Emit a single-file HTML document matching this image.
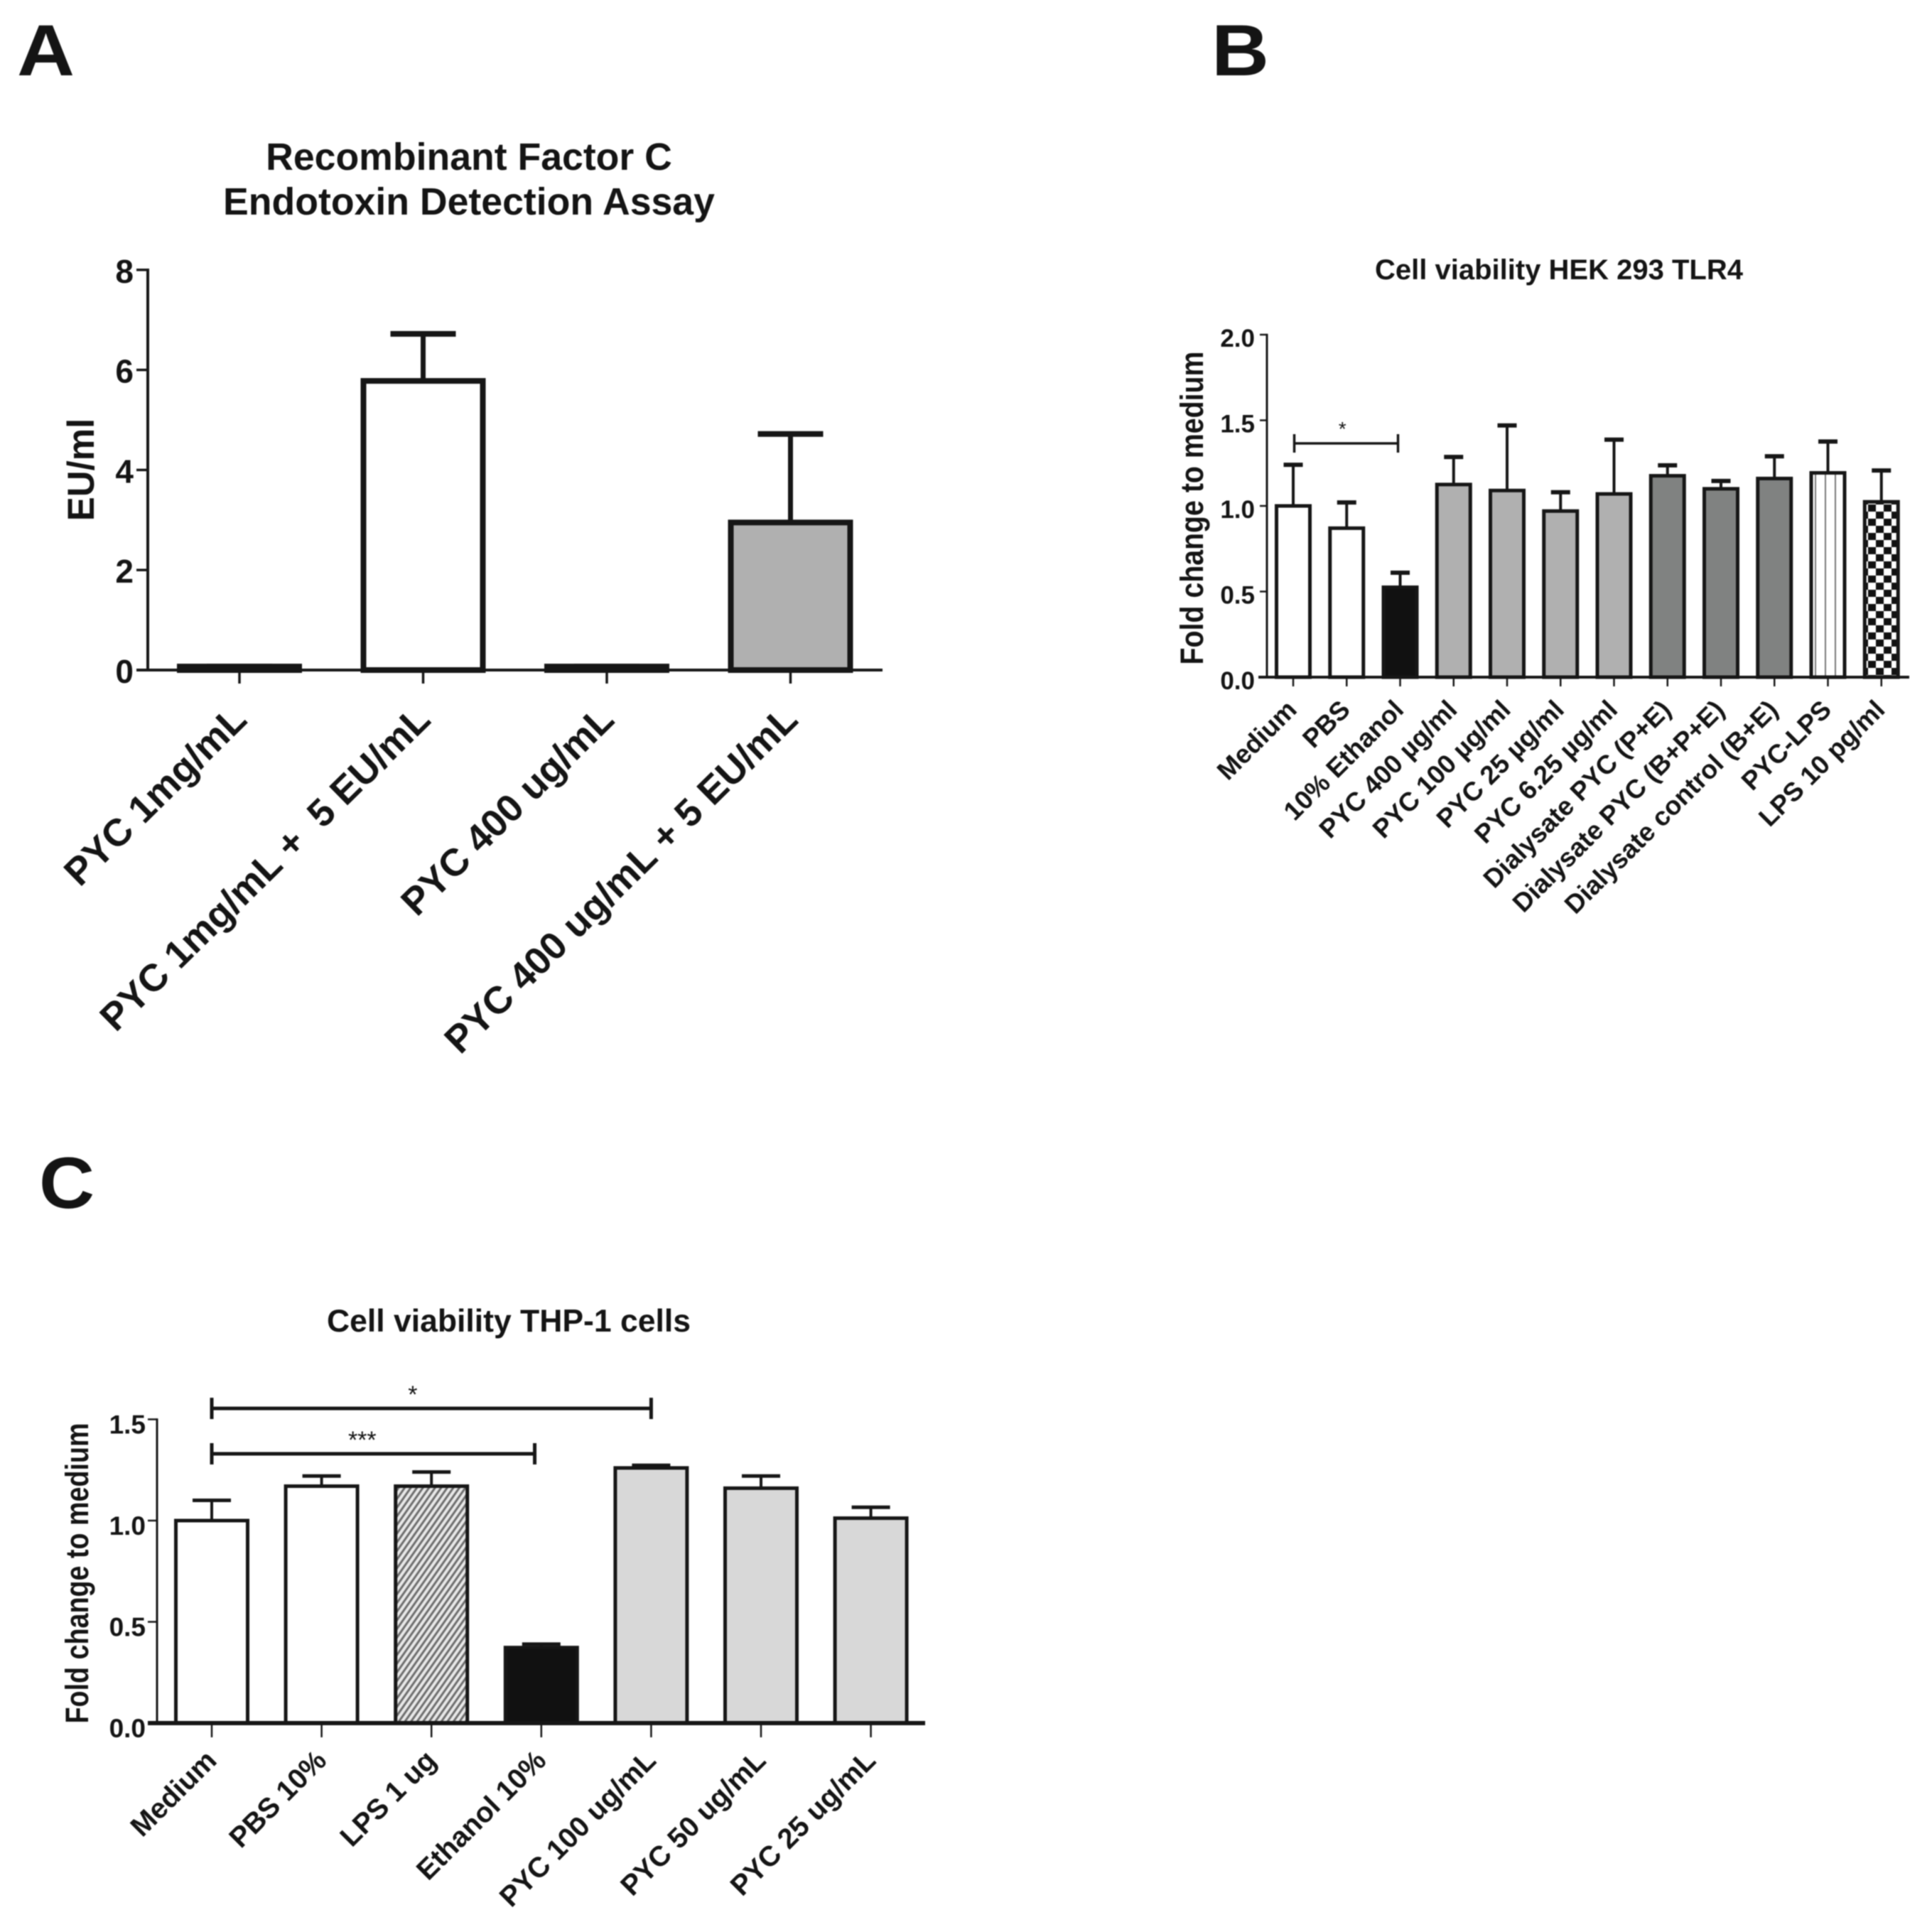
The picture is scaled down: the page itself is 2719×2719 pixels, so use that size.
<!DOCTYPE html>
<html lang="en">
<head>
<meta charset="utf-8">
<title>Endotoxin detection and cell viability panels</title>
<style>
html,body{margin:0;padding:0;background:#fff;width:2719px;height:2719px;overflow:hidden}
svg{display:block;filter:blur(0.9px)}
text{font-family:"Liberation Sans",Arial,sans-serif;fill:#141414}
.b{font-weight:bold}
</style>
</head>
<body>
<svg id="figure" xmlns="http://www.w3.org/2000/svg" width="2719" height="2719" viewBox="0 0 2719 2719">
  <defs>
    <pattern id="stripes" patternUnits="userSpaceOnUse" width="14" height="14">
      <rect width="14" height="14" fill="#ffffff"/>
      <rect x="6" width="2" height="14" fill="#777777"/>
    </pattern>
    <pattern id="checker" patternUnits="userSpaceOnUse" width="22" height="20">
      <rect width="22" height="20" fill="#ffffff"/>
      <rect width="11" height="10" fill="#111111"/>
      <rect x="11" y="10" width="11" height="10" fill="#111111"/>
    </pattern>
    <pattern id="hatch" patternUnits="userSpaceOnUse" width="7" height="7" patternTransform="rotate(-55)">
      <rect width="7" height="7" fill="#e8e8e8"/>
      <rect width="7" height="3" fill="#6e6e6e"/>
    </pattern>
  </defs>
  <rect width="2719" height="2719" fill="#ffffff"/>

  <g id="panel-a">
    <text class="b" transform="translate(24,106) scale(1.1,1)" font-size="102">A</text>
    <text class="b" x="660" y="239" font-size="53.6" text-anchor="middle">Recombinant Factor C</text>
    <text class="b" x="660" y="302" font-size="53.6" text-anchor="middle">Endotoxin Detection Assay</text>
    <text class="b" transform="translate(132,661) rotate(-90) scale(1,1.03)" font-size="51" text-anchor="middle">EU/ml</text>
  </g>

  <g id="panel-b">
    <text class="b" transform="translate(1705,106) scale(1.1,1)" font-size="102">B</text>
    <text class="b" x="2194" y="393" font-size="40" text-anchor="middle">Cell viability HEK 293 TLR4</text>
    <text class="b" transform="translate(1693,715) rotate(-90) scale(1,1.15)" font-size="39.3" text-anchor="middle">Fold change to medium</text>
  </g>

  <g id="panel-c">
    <text class="b" transform="translate(55,1700) scale(1.06,1)" font-size="102">C</text>
    <text class="b" x="716" y="1874" font-size="44.5" text-anchor="middle">Cell viability THP-1 cells</text>
    <text class="b" transform="translate(124,2214) rotate(-90) scale(1,1.2)" font-size="37.7" text-anchor="middle">Fold change to medium</text>
  </g>
</svg>

<script>
// Panel A data
const aCategories = ['PYC 1mg/mL', 'PYC 1mg/mL +  5 EU/mL', 'PYC 400 ug/mL', 'PYC 400 ug/mL + 5 EU/mL'];
const aMeans = [0.07, 5.78, 0.07, 2.95];
const aErrors = [0, 0.94, 0, 1.77];
const aGroups = ['black', 'white', 'black', 'midGrey'];
const aTicks = [0, 2, 4, 6, 8];
const aTickLabels = ['0', '2', '4', '6', '8'];

// Panel B data
const bCategories = ['Medium', 'PBS', '10% Ethanol', 'PYC 400 \u00b5g/ml', 'PYC 100 \u00b5g/ml', 'PYC 25 \u00b5g/ml', 'PYC 6.25 \u00b5g/ml', 'Dialysate PYC (P+E)', 'Dialysate PYC (B+P+E)', 'Dialysate control (B+E)', 'PYC-LPS', 'LPS 10 pg/ml'];
const bMeans = [1.0, 0.87, 0.525, 1.125, 1.09, 0.97, 1.07, 1.176, 1.10, 1.16, 1.193, 1.024];
const bErrors = [0.24, 0.15, 0.085, 0.161, 0.38, 0.11, 0.317, 0.061, 0.046, 0.13, 0.183, 0.183];
const bGroups = ['white', 'white', 'black', 'midGrey', 'midGrey', 'midGrey', 'midGrey', 'darkGrey', 'darkGrey', 'darkGrey', 'stripes', 'checker'];
const bTicks = [0, 0.5, 1, 1.5, 2];
const bTickLabels = ['0.0', '0.5', '1.0', '1.5', '2.0'];
const bBracketFrom = [0.02];
const bBracketTo = [1.96];
const bBracketLevels = [1.365];
const bBracketMarks = ['*'];
const bBracketMarkAt = [0.92];

// Panel C data
const cCategories = ['Medium', 'PBS 10%', 'LPS 1 ug', 'Ethanol 10%', 'PYC 100 ug/mL', 'PYC 50 ug/mL', 'PYC 25 ug/mL'];
const cMeans = [1.0, 1.17, 1.17, 0.373, 1.26, 1.16, 1.012];
const cErrors = [0.10, 0.05, 0.07, 0.017, 0.013, 0.06, 0.054];
const cGroups = ['white', 'white', 'hatch', 'black', 'lightGrey', 'lightGrey', 'lightGrey'];
const cTicks = [0, 0.5, 1, 1.5];
const cTickLabels = ['0.0', '0.5', '1.0', '1.5'];
const cBracketFrom = [0, 0];
const cBracketTo = [4, 2.94];
const cBracketLevels = [1.554, 1.33];
const cBracketMarks = ['*', '***'];
const cBracketMarkAt = [1.83, 1.37];

// Fill styles per group
const groupFill = {
  white: '#ffffff',
  black: '#111111',
  midGrey: '#b0b0b0',
  darkGrey: '#808281',
  lightGrey: '#d8d8d8',
  stripes: 'url(#stripes)',
  checker: 'url(#checker)',
  hatch: 'url(#hatch)'
};

const NS = 'http://www.w3.org/2000/svg';
const INK = '#161616';

function add(parent, tag, attrs) {
  const el = document.createElementNS(NS, tag);
  for (const k in attrs) el.setAttribute(k, attrs[k]);
  parent.appendChild(el);
  return el;
}

function makeX(first, step) {
  return function (i) { return first + step * i; };
}

function makeY(y0, pxPerUnit) {
  return function (v) { return y0 - v * pxPerUnit; };
}

function drawPanel(panelId, prefix, g, categories, means, errors, groups, ticks, tickLabels) {
  const panel = document.getElementById(panelId);
  const x = makeX(g.firstX, g.stepX);
  const y = makeY(g.y0, g.unit);

  ticks.forEach(function (t, i) {
    const tick = add(panel, 'line', { x1: g.axisX - g.yTickLen, x2: g.axisX, y1: y(t), y2: y(t), stroke: INK, 'stroke-width': g.tickW });
    
    
    const label = add(panel, 'text', { x: g.yLabelX, y: y(t) + g.yLabelDy, 'font-size': g.yLabelSize, 'text-anchor': 'end', 'font-weight': 'bold' });
    label.textContent = tickLabels[i];
    
    
  });

  categories.forEach(function (name, i) {
    const cx = x(i);
    const whisker = add(panel, 'line', { x1: cx, x2: cx, y1: y(means[i]), y2: y(means[i] + errors[i]), stroke: INK, 'stroke-width': g.whiskerW });
    
    
    const cap = add(panel, 'line', { x1: cx - g.capW / 2, x2: cx + g.capW / 2, y1: y(means[i] + errors[i]), y2: y(means[i] + errors[i]), stroke: INK, 'stroke-width': g.capH });
    
    
    const bar = add(panel, 'rect', { x: cx - g.barW / 2, y: y(means[i]), width: g.barW, height: g.y0 - y(means[i]), fill: groupFill[groups[i]], stroke: INK, 'stroke-width': g.barStroke });
    
    
    const tick = add(panel, 'line', { x1: cx, x2: cx, y1: g.y0, y2: g.y0 + g.xTickLen, stroke: INK, 'stroke-width': g.tickW });
    
    
    const ex = cx + g.labelDx;
    const ey = g.y0 + g.labelDy;
    const label = add(panel, 'text', { transform: 'translate(' + ex + ',' + ey + ') rotate(' + (-g.labelAngle) + ')', 'font-size': g.labelSize, 'text-anchor': 'end', 'font-weight': g.labelWeight, 'xml:space': 'preserve', style: 'white-space:pre' });
    label.textContent = name;
    
    
  });

  const yAxis = add(panel, 'line', { x1: g.axisX, x2: g.axisX, y1: y(ticks[ticks.length - 1]) - g.tickW / 2, y2: g.y0, stroke: INK, 'stroke-width': g.axisW });
  
  
  const xAxis = add(panel, 'line', { x1: g.xAxisStart, x2: g.xAxisEnd, y1: g.y0, y2: g.y0, stroke: INK, 'stroke-width': g.xAxisW });
  
  
}

function drawBrackets(panelId, prefix, g, from, to, levels, marks, markAt) {
  const panel = document.getElementById(panelId);
  const x = makeX(g.firstX, g.stepX);
  const y = makeY(g.y0, g.unit);
  levels.forEach(function (level, i) {
    const x1 = x(from[i]);
    const x2 = x(to[i]);
    const by = y(level);
    const span = add(panel, 'path', { d: 'M' + x1 + ' ' + (by - g.brH) + 'V' + (by + g.brH) + 'M' + x1 + ' ' + by + 'H' + x2 + 'M' + x2 + ' ' + (by - g.brH) + 'V' + (by + g.brH), fill: 'none', stroke: INK, 'stroke-width': g.brW });
    
    
    const mark = add(panel, 'text', { x: x(markAt[i]), y: by - g.markDy, 'font-size': g.markSize, 'text-anchor': 'middle' });
    mark.textContent = marks[i];
    
    
  });
}

const geomA = {
  firstX: 337, stepX: 258.5, y0: 943, unit: 70.4, barW: 168, barStroke: 8,
  whiskerW: 7, capW: 92, capH: 8, axisX: 208, axisW: 4, yTickLen: 16, tickW: 3.5,
  yLabelX: 188, yLabelDy: 18, yLabelSize: 46, xAxisStart: 192, xAxisEnd: 1242, xAxisW: 4,
  xTickLen: 19, labelDx: 13, labelDy: 73, labelAngle: 44.5, labelSize: 54, labelWeight: 'bold'
};
const geomB = {
  firstX: 1820, stepX: 75.25, y0: 953, unit: 241, barW: 47, barStroke: 5,
  whiskerW: 4, capW: 27, capH: 6, axisX: 1783, axisW: 3, yTickLen: 10, tickW: 2.5,
  yLabelX: 1766, yLabelDy: 17, yLabelSize: 35, xAxisStart: 1771, xAxisEnd: 2687, xAxisW: 4,
  xTickLen: 13, labelDx: 7, labelDy: 48, labelAngle: 45, labelSize: 37, labelWeight: 'bold',
  brH: 13, brW: 3.5, markDy: 11, markSize: 28
};
const geomC = {
  firstX: 298, stepX: 154.6, y0: 2425, unit: 285, barW: 101, barStroke: 5,
  whiskerW: 4, capW: 54, capH: 5, axisX: 221, axisW: 3, yTickLen: 13, tickW: 2.5,
  yLabelX: 205, yLabelDy: 20, yLabelSize: 37, xAxisStart: 208, xAxisEnd: 1302, xAxisW: 6,
  xTickLen: 20, labelDx: 9, labelDy: 55, labelAngle: 45, labelSize: 40, labelWeight: 'bold',
  brH: 15, brW: 5, markDy: 8, markSize: 34
};

drawPanel('panel-a', 'panel-a', geomA, aCategories, aMeans, aErrors, aGroups, aTicks, aTickLabels);
drawPanel('panel-b', 'panel-b', geomB, bCategories, bMeans, bErrors, bGroups, bTicks, bTickLabels);
drawPanel('panel-c', 'panel-c', geomC, cCategories, cMeans, cErrors, cGroups, cTicks, cTickLabels);
drawBrackets('panel-b', 'panel-b', geomB, bBracketFrom, bBracketTo, bBracketLevels, bBracketMarks, bBracketMarkAt);
drawBrackets('panel-c', 'panel-c', geomC, cBracketFrom, cBracketTo, cBracketLevels, cBracketMarks, cBracketMarkAt);
</script>
</body>
</html>
